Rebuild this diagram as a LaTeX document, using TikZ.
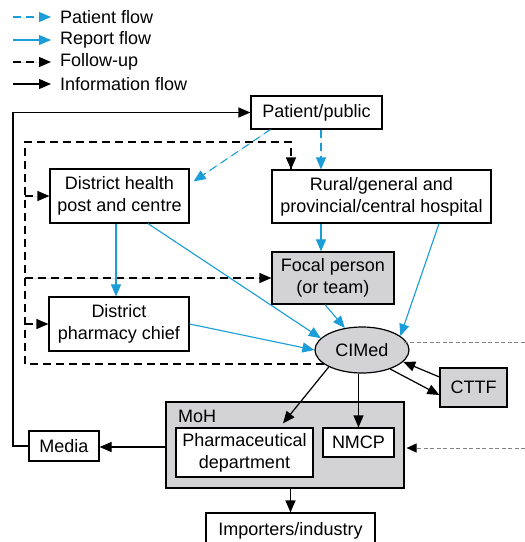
\documentclass[tikz,border=0pt]{standalone}
\usepackage{fontspec}
\setmainfont{Liberation Sans}
\usetikzlibrary{arrows.meta,shapes.geometric,calc}
\definecolor{flowblue}{RGB}{27,158,215}
\definecolor{boxgray}{RGB}{211,211,213}
\definecolor{dashgray}{RGB}{130,130,130}
\tikzset{
  box/.style={draw=black,line width=1.2pt,fill=white,align=center,inner sep=0pt,font=\fontsize{18}{22}\selectfont},
  graybox/.style={box,fill=boxgray},
  tip/.style={-{Triangle[length=12pt,width=10pt]}},
  pflow/.style={tip,draw=flowblue,fill=flowblue,line width=1.1pt,dash pattern=on 8pt off 5pt},
  rflow/.style={tip,draw=flowblue,fill=flowblue,line width=1.1pt},
  fup/.style={draw=black,line width=1.2pt,dash pattern=on 8pt off 5pt},
  fupa/.style={fup,tip,fill=black},
  info/.style={draw=black,line width=1.2pt},
  infoa/.style={info,tip,fill=black},
  gdash/.style={draw=dashgray,line width=1pt,dash pattern=on 4pt off 2.5pt},
  gdasha/.style={gdash,-{Triangle[length=10pt,width=9pt,black]}},
  lgtext/.style={anchor=west,inner sep=0pt,font=\fontsize{18}{22}\selectfont}
}
\begin{document}
\begin{tikzpicture}[x=1pt,y=-1pt]
\clip (0,0) rectangle (525,542);
\fill[white] (0,0) rectangle (525,542);
% legend
\node[lgtext] (l1) at (60,17) {Patient flow};
\node[lgtext] (l2) at (60,40) {Report flow};
\node[lgtext] (l3) at (60,62) {Follow-up};
\node[lgtext] (l4) at (60,84) {Information flow};
\coordinate (s1) at (13,17); \coordinate (s2) at (13,40);
\coordinate (s3) at (13,62); \coordinate (s4) at (13,84);
\draw[pflow] (s1) -- ([xshift=-9pt]l1.west);
\draw[rflow] (s2) -- ([xshift=-9pt]l2.west);
\draw[fupa] (s3) -- ([xshift=-9pt]l3.west);
\draw[infoa] (s4) -- ([xshift=-9pt]l4.west);
% nodes
\node[box,minimum width=131,minimum height=33] (pp) at (316.5,112.5) {Patient/public};
\node[box,minimum width=139,minimum height=54] (dh) at (119.5,196) {District health\\post and centre};
\node[box,minimum width=219,minimum height=53] (rh) at (381.5,196.5) {Rural/general and\\provincial/central hospital};
\node[graybox,minimum width=122,minimum height=52] (fp) at (333,278) {Focal person\\(or team)};
\node[box,minimum width=140,minimum height=54] (pc) at (119,324) {District\\pharmacy chief};
\node[ellipse,graybox,minimum width=94,minimum height=46] (cim) at (362,350) {CIMed};
\node[graybox,minimum width=67,minimum height=39] (cttf) at (473.5,387.5) {CTTF};
\node[graybox,minimum width=238,minimum height=86] (moh) at (285,445) {};
\node[anchor=base west,inner sep=0pt,font=\fontsize{18}{22}\selectfont] (mohl) at (178,422) {MoH};
\node[box,minimum width=137,minimum height=49] (pd) at (244.5,452.5) {Pharmaceutical\\department};
\node[box,minimum width=71,minimum height=29] (nmcp) at (358.5,442.5) {NMCP};
\node[box,minimum width=70,minimum height=30] (media) at (64,446) {Media};
\node[box,minimum width=169,minimum height=36] (imp) at (290.5,531) {Importers/industry};
\coordinate (fuc) at (25,142);
\coordinate (lc) at (13,112.5);
\coordinate (edgeR) at (525,0);
% patient flow
\draw[pflow] ([xshift=4.5pt]pp.south) -- ([xshift=4.5pt]pp.south |- rh.north);
\draw[pflow] ([xshift=20pt]pp.south west) -- ([xshift=4pt,yshift=-13pt]dh.north east);
% follow-up
\draw[fup] (cim.200) -| (fuc) -| ([xshift=-90.5pt]rh.north);
\draw[fupa] ([xshift=-90.5pt,yshift=1pt]rh.north) -- ([xshift=-90.5pt]rh.north);
\draw[fupa] (fuc |- dh.west) -- (dh.west);
\draw[fupa] (fuc |- fp.west) -- (fp.west);
\draw[fupa] (fuc |- pc.west) -- (pc.west);
% report flow
\draw[rflow] ([xshift=-60.5pt]rh.south) -- ([xshift=-60.5pt]rh.south |- fp.north);
\draw[rflow] ([xshift=-3.5pt]dh.south) -- ([xshift=-3.5pt]dh.south |- pc.north);
\draw[rflow] ([xshift=28.5pt]dh.south) -- (cim.164);
\draw[rflow] (pc.east) -- (cim.west);
\draw[rflow] ([xshift=-8pt]fp.south) -- (cim.128);
\draw[rflow] ([xshift=57.5pt]rh.south) -- (cim.20);
% information flow
\draw[infoa] ([yshift=10.5pt]cttf.west) -- (cim.-16);
\draw[infoa] (cim.-34) -- ([yshift=-7.5pt]cttf.west);
\draw[infoa] (cim.207) -- ([xshift=38.5pt,yshift=4pt]pd.north);
\draw[infoa] (nmcp.north |- cim.south) -- (nmcp.north);
\draw[infoa] ([yshift=-2pt]moh.west) -- ([yshift=-2pt]moh.west -| media.east);
\draw[info] (media.west) -| (lc) -- ([xshift=-2pt]pp.west);
\draw[infoa] ([xshift=-10pt]pp.west) -- (pp.west);
\draw[infoa] ([xshift=5.5pt]moh.south) -- ([xshift=5.5pt]moh.south |- imp.north);
% external gray dashed
\draw[gdash] ([xshift=-3pt]cim.10) -- (cim.10 -| edgeR);
\draw[gdasha] ([yshift=-3pt]moh.east -| edgeR) -- ([yshift=-3pt,xshift=2pt]moh.east);
\end{tikzpicture}
\end{document}
